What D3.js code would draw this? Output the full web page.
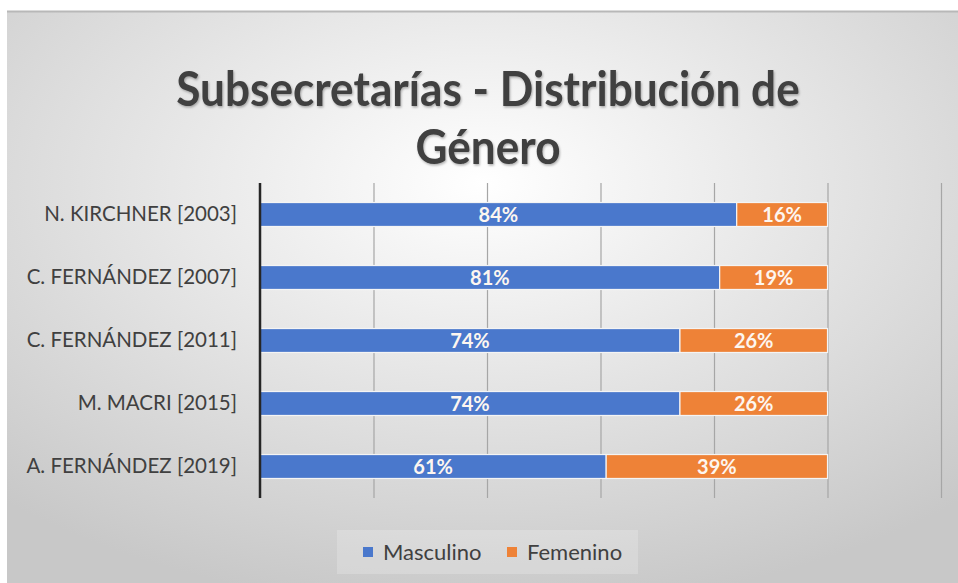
<!DOCTYPE html>
<html>
<head>
<meta charset="utf-8">
<script src="https://cdn.jsdelivr.net/npm/d3@7"></script>
<style>
  body { margin: 0; background: #fff; }
  svg { display: block; }
</style>
</head>
<body>
<svg id="canvas" width="958" height="583"></svg>
<script>
let categories = ['N. KIRCHNER [2003]', 'C. FERNÁNDEZ [2007]', 'C. FERNÁNDEZ [2011]', 'M. MACRI [2015]', 'A. FERNÁNDEZ [2019]'];
let masculino = [0.84, 0.81, 0.74, 0.74, 0.61];
let femenino = [0.16, 0.19, 0.26, 0.26, 0.39];
let seriesNames = ['Masculino', 'Femenino'];
let seriesColors = ['#4A78CC', '#EE8237'];
let gridTicks = [0, 0.2, 0.4, 0.6, 0.8, 1.0, 1.2];

let canvas = d3.select('#canvas');

// background with radial gradient
let defs = canvas.append('defs');
let grad = defs.append('radialGradient')
	.attr('id', 'bg')
	.attr('cx', '50%').attr('cy', '30%').attr('r', '75%');
grad.append('stop').attr('offset', '0%').attr('stop-color', '#ffffff');
grad.append('stop').attr('offset', '100%').attr('stop-color', '#c8c8c8');

let shadow = defs.append('filter').attr('id', 'shadow');
shadow.append('feDropShadow')
	.attr('dx', 1).attr('dy', 1.5).attr('stdDeviation', 1)
	.attr('flood-color', '#000').attr('flood-opacity', 0.3);

canvas.append('rect')
	.attr('x', 7).attr('y', 11)
	.attr('width', 951).attr('height', 572)
	.attr('fill', 'url(#bg)');
canvas.append('line')
	.attr('x1', 7).attr('x2', 958).attr('y1', 11.5).attr('y2', 11.5)
	.attr('stroke', '#b8b8b8').attr('stroke-width', 2);

// title (condensed to mimic the original narrow face)
let title = canvas.append('text')
	.attr('transform', 'translate(488,0) scale(0.92,1)')
	.attr('text-anchor', 'middle')
	.attr('font-family', 'Lato, sans-serif')
	.attr('font-weight', 'bold')
	.attr('font-size', 48)
	.attr('fill', '#404040')
	.attr('filter', 'url(#shadow)');
title.append('tspan').attr('x', 0).attr('y', 106).text('Subsecretarías - Distribución de');
title.append('tspan').attr('x', 0).attr('y', 164).text('Género');

let plotLeft = 260;
let plotTop = 183;
let plotBottom = 498;

let xScale = d3.scaleLinear()
	.domain([0, 1.2])
	.range([plotLeft, plotLeft + 681]);

let yScale = d3.scaleBand()
	.domain(categories)
	.range([plotTop, plotBottom])
	.paddingInner(0.62)
	.paddingOuter(0.31);

// gridlines
canvas.append('g')
	.selectAll('line')
	.data(gridTicks.slice(1))
	.enter()
	.append('line')
	.attr('x1', (d) => xScale(d) + 0.5)
	.attr('x2', (d) => xScale(d) + 0.5)
	.attr('y1', plotTop)
	.attr('y2', plotBottom)
	.attr('stroke', '#a6a6a6')
	.attr('stroke-width', 1.2);

// stacked bars
let rows = categories.map((c, i) => ({ cat: c, Masculino: masculino[i], Femenino: femenino[i] }));
let stacked = d3.stack().keys(seriesNames)(rows);

let groups = canvas.append('g')
	.selectAll('g')
	.data(stacked)
	.enter()
	.append('g')
	.attr('fill', (d, i) => seriesColors[i]);

groups.selectAll('rect')
	.data((d) => d)
	.enter()
	.append('rect')
	.attr('x', (d) => xScale(d[0]))
	.attr('y', (d) => yScale(d.data.cat))
	.attr('width', (d) => xScale(d[1]) - xScale(d[0]))
	.attr('height', yScale.bandwidth())
	.attr('stroke', '#f4f4f4')
	.attr('stroke-width', 1.2);

groups.selectAll('text')
	.data((d) => d)
	.enter()
	.append('text')
	.attr('x', (d) => (xScale(d[0]) + xScale(d[1])) / 2)
	.attr('y', (d) => yScale(d.data.cat) + yScale.bandwidth() / 2)
	.attr('dy', '0.36em')
	.attr('text-anchor', 'middle')
	.attr('font-family', 'Lato, sans-serif')
	.attr('font-weight', 'bold')
	.attr('font-size', 20)
	.attr('fill', '#fdf6f0')
	.text((d) => Math.round((d[1] - d[0]) * 100) + '%');

// y axis
let yAxis = d3.axisLeft(yScale).tickSize(0).tickPadding(23);
let yg = canvas.append('g')
	.attr('transform', 'translate(' + plotLeft + ',0)')
	.call(yAxis);
yg.select('.domain')
	.attr('d', 'M0,' + plotTop + 'V' + plotBottom)
	.attr('stroke', '#262626')
	.attr('stroke-width', 2.5);
yg.selectAll('text')
	.attr('font-family', 'Lato, sans-serif')
	.attr('font-size', 20.5)
	.attr('fill', '#404040');

// legend
let legend = canvas.append('g');
legend.append('rect')
	.attr('x', 337).attr('y', 530)
	.attr('width', 301).attr('height', 44)
	.attr('fill', '#ffffff').attr('opacity', 0.2);
let legendX = [363, 507];
let items = legend.selectAll('g.item')
	.data(seriesNames)
	.enter()
	.append('g')
	.attr('class', 'item')
	.attr('transform', (d, i) => 'translate(' + legendX[i] + ',552)');
items.append('rect')
	.attr('x', 0).attr('y', -5)
	.attr('width', 10).attr('height', 10)
	.attr('fill', (d, i) => seriesColors[i]);
items.append('text')
	.attr('x', 20)
	.attr('dy', '0.35em')
	.attr('font-family', 'Lato, sans-serif')
	.attr('font-size', 22)
	.attr('fill', '#404040')
	.text((d) => d);
</script>
</body>
</html>
